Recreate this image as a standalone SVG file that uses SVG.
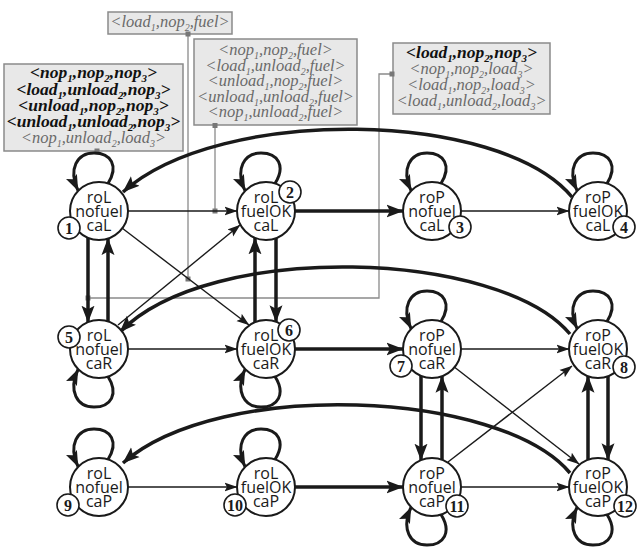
<svg xmlns="http://www.w3.org/2000/svg" width="637" height="556" viewBox="0 0 637 556">
<defs>
<style>
.bg{fill:#fff}
.nc{fill:#fff;stroke:#1a1a1a;stroke-width:2}
.nt{font-family:"Open Sans","Noto Sans",sans-serif;font-size:16px;text-anchor:middle;fill:#1a1a1a}
.uc{fill:#fff;stroke:#1a1a1a;stroke-width:1.6}
.ut{font-family:"Liberation Serif",serif;font-weight:bold;font-size:16px;text-anchor:middle;fill:#1a1a1a}
.e{fill:none;stroke:#1a1a1a}
.thin{stroke-width:1.4;marker-end:url(#at)}
.thick{stroke-width:3.5;marker-end:url(#ak)}
.loop{stroke-width:3;marker-end:url(#al)}
.g{fill:none;stroke:#8a8a8a;stroke-width:1.3}
.sq{fill:#777}
.box{fill:#e8e8e8;stroke:#8a8a8a;stroke-width:1.5}
.lb{font-family:"Liberation Serif",serif;font-style:italic;font-size:16.5px;text-anchor:middle;fill:#6a6a6a}
.lbb{font-weight:bold;fill:#111;font-size:17.5px}
.s{font-size:10px}
.lbb .s{font-size:11px}
</style>
<marker id="ak" markerUnits="userSpaceOnUse" viewBox="0 -7 17 14" refX="16.5" refY="0" markerWidth="17" markerHeight="14" orient="auto"><path d="M0,-6.5 L17,0 L0,6.5 L3.5,0 Z" fill="#1a1a1a"/></marker>
<marker id="al" markerUnits="userSpaceOnUse" viewBox="0 -7 16 14" refX="15.5" refY="0" markerWidth="16" markerHeight="14" orient="auto"><path d="M0,-6 L16,0 L0,6 L3,0 Z" fill="#1a1a1a"/></marker>
<marker id="at" markerUnits="userSpaceOnUse" viewBox="0 -5 13 10" refX="12.5" refY="0" markerWidth="13" markerHeight="10" orient="auto"><path d="M0,-4.5 L13,0 L0,4.5 L2.5,0 Z" fill="#1a1a1a"/></marker>
</defs>
<rect class="bg" x="0" y="0" width="637" height="556"/>

<g id="labels">
<rect class="box" x="4" y="64" width="179" height="87"/>
<text class="lb lbb" x="93.5" y="78">&lt;nop<tspan class="s" dy="4">1</tspan><tspan dy="-4">,nop</tspan><tspan class="s" dy="4">2</tspan><tspan dy="-4">,nop</tspan><tspan class="s" dy="4">3</tspan><tspan dy="-4">&gt;</tspan></text>
<text class="lb lbb" x="93.5" y="94.5">&lt;load<tspan class="s" dy="4">1</tspan><tspan dy="-4">,unload</tspan><tspan class="s" dy="4">2</tspan><tspan dy="-4">,nop</tspan><tspan class="s" dy="4">3</tspan><tspan dy="-4">&gt;</tspan></text>
<text class="lb lbb" x="93.5" y="110.5">&lt;unload<tspan class="s" dy="4">1</tspan><tspan dy="-4">,nop</tspan><tspan class="s" dy="4">2</tspan><tspan dy="-4">,nop</tspan><tspan class="s" dy="4">3</tspan><tspan dy="-4">&gt;</tspan></text>
<text class="lb lbb" x="93.5" y="126.5">&lt;unload<tspan class="s" dy="4">1</tspan><tspan dy="-4">,unload</tspan><tspan class="s" dy="4">2</tspan><tspan dy="-4">,nop</tspan><tspan class="s" dy="4">3</tspan><tspan dy="-4">&gt;</tspan></text>
<text class="lb" x="93.5" y="142.5">&lt;nop<tspan class="s" dy="4">1</tspan><tspan dy="-4">,unload</tspan><tspan class="s" dy="4">2</tspan><tspan dy="-4">,load</tspan><tspan class="s" dy="4">3</tspan><tspan dy="-4">&gt;</tspan></text>

<rect class="box" x="108" y="12" width="124" height="22"/>
<text class="lb" x="170" y="27">&lt;load<tspan class="s" dy="4">1</tspan><tspan dy="-4">,nop</tspan><tspan class="s" dy="4">2</tspan><tspan dy="-4">,fuel&gt;</tspan></text>

<rect class="box" x="194" y="39" width="163" height="86"/>
<text class="lb" x="275.5" y="55">&lt;nop<tspan class="s" dy="4">1</tspan><tspan dy="-4">,nop</tspan><tspan class="s" dy="4">2</tspan><tspan dy="-4">,fuel&gt;</tspan></text>
<text class="lb" x="275.5" y="70.5">&lt;load<tspan class="s" dy="4">1</tspan><tspan dy="-4">,unload</tspan><tspan class="s" dy="4">2</tspan><tspan dy="-4">,fuel&gt;</tspan></text>
<text class="lb" x="275.5" y="86">&lt;unload<tspan class="s" dy="4">1</tspan><tspan dy="-4">,nop</tspan><tspan class="s" dy="4">2</tspan><tspan dy="-4">,fuel&gt;</tspan></text>
<text class="lb" x="275.5" y="101.5">&lt;unload<tspan class="s" dy="4">1</tspan><tspan dy="-4">,unload</tspan><tspan class="s" dy="4">2</tspan><tspan dy="-4">,fuel&gt;</tspan></text>
<text class="lb" x="275.5" y="117">&lt;nop<tspan class="s" dy="4">1</tspan><tspan dy="-4">,unload</tspan><tspan class="s" dy="4">2</tspan><tspan dy="-4">,fuel&gt;</tspan></text>

<rect class="box" x="393" y="43" width="157" height="71"/>
<text class="lb lbb" x="471.5" y="58">&lt;load<tspan class="s" dy="4">1</tspan><tspan dy="-4">,nop</tspan><tspan class="s" dy="4">2</tspan><tspan dy="-4">,nop</tspan><tspan class="s" dy="4">3</tspan><tspan dy="-4">&gt;</tspan></text>
<text class="lb" x="471.5" y="74">&lt;nop<tspan class="s" dy="4">1</tspan><tspan dy="-4">,nop</tspan><tspan class="s" dy="4">2</tspan><tspan dy="-4">,load</tspan><tspan class="s" dy="4">3</tspan><tspan dy="-4">&gt;</tspan></text>
<text class="lb" x="471.5" y="90">&lt;load<tspan class="s" dy="4">1</tspan><tspan dy="-4">,nop</tspan><tspan class="s" dy="4">2</tspan><tspan dy="-4">,load</tspan><tspan class="s" dy="4">3</tspan><tspan dy="-4">&gt;</tspan></text>
<text class="lb" x="471.5" y="106">&lt;load<tspan class="s" dy="4">1</tspan><tspan dy="-4">,unload</tspan><tspan class="s" dy="4">2</tspan><tspan dy="-4">,load</tspan><tspan class="s" dy="4">3</tspan><tspan dy="-4">&gt;</tspan></text>
</g>

<g id="label-links">
<path class="g" d="M188,34 V279"/>
<path class="g" d="M215,125 V211"/>
<path class="g" d="M393,74 H379 V298 H88"/>
<rect class="sq" x="185.5" y="31.5" width="5" height="5"/>
<rect class="sq" x="185.5" y="276.5" width="5" height="5"/>
<rect class="sq" x="212.5" y="123" width="5" height="5"/>
<rect class="sq" x="212.5" y="208.5" width="5" height="5"/>
<rect class="sq" x="389.5" y="71.5" width="5" height="5"/>
<rect class="sq" x="85.5" y="295.5" width="5" height="5"/>
<rect class="sq" x="94.5" y="148.5" width="5" height="5"/>
</g>

<g id="connectors">
<!-- self loops -->
<path class="e loop" transform="translate(99,211)" d="M9,-27.5 C20,-45 12,-58 -5,-58 C-22,-58 -31,-42 -21,-20.5"/>
<path class="e loop" transform="translate(266,211)" d="M9,-27.5 C20,-45 12,-58 -5,-58 C-22,-58 -31,-42 -21,-20.5"/>
<path class="e loop" transform="translate(432,211)" d="M9,-27.5 C20,-45 12,-58 -5,-58 C-22,-58 -31,-42 -21,-20.5"/>
<path class="e loop" transform="translate(598,211)" d="M9,-27.5 C20,-45 12,-58 -5,-58 C-22,-58 -31,-42 -21,-20.5"/>
<path class="e loop" transform="translate(99,349) scale(1,-1)" d="M9,-27.5 C20,-45 12,-58 -5,-58 C-22,-58 -31,-42 -21,-20.5"/>
<path class="e loop" transform="translate(266,349) scale(1,-1)" d="M9,-27.5 C20,-45 12,-58 -5,-58 C-22,-58 -31,-42 -21,-20.5"/>
<path class="e loop" transform="translate(432,349)" d="M9,-27.5 C20,-45 12,-58 -5,-58 C-22,-58 -31,-42 -21,-20.5"/>
<path class="e loop" transform="translate(598,349)" d="M9,-27.5 C20,-45 12,-58 -5,-58 C-22,-58 -31,-42 -21,-20.5"/>
<path class="e loop" transform="translate(99,487)" d="M9,-27.5 C20,-45 12,-58 -5,-58 C-22,-58 -31,-42 -21,-20.5"/>
<path class="e loop" transform="translate(266,487)" d="M9,-27.5 C20,-45 12,-58 -5,-58 C-22,-58 -31,-42 -21,-20.5"/>
<path class="e loop" transform="translate(432,487) scale(1,-1)" d="M9,-27.5 C20,-45 12,-58 -5,-58 C-22,-58 -31,-42 -21,-20.5"/>
<path class="e loop" transform="translate(598,487) scale(1,-1)" d="M9,-27.5 C20,-45 12,-58 -5,-58 C-22,-58 -31,-42 -21,-20.5"/>

<!-- thin horizontals -->
<path class="e thin" d="M128,211 H237"/>
<path class="e thin" d="M461,211 H569"/>
<path class="e thin" d="M128,349 H237"/>
<path class="e thin" d="M461,349 H569"/>
<path class="e thin" d="M128,487 H237"/>
<path class="e thin" d="M461,487 H569"/>
<!-- thick horizontals -->
<path class="e thick" d="M295,211 H403"/>
<path class="e thick" d="M295,349 H403"/>
<path class="e thick" d="M295,487 H403"/>
<!-- diagonals -->
<path class="e thin" d="M122,228 L249,325"/>
<path class="e thin" d="M118,325 L240,225"/>
<path class="e thin" d="M453,366 L579,464"/>
<path class="e thin" d="M448,462 L572,366"/>
<!-- vertical pairs -->
<path class="e thick" d="M88,237.8 V322.2"/>
<path class="e thick" d="M108,321.4 V238.6"/>
<path class="e thick" d="M255,322.2 V237.8"/>
<path class="e thick" d="M276,238.2 V321.8"/>
<path class="e thick" d="M421,375.8 V460.2"/>
<path class="e thick" d="M442,459.8 V376.2"/>
<path class="e thick" d="M588,459.8 V376.2"/>
<path class="e thick" d="M608,376.2 V459.8"/>
<!-- long curves -->
<path class="e thick" d="M572,197 C500,110 220,105 123,192"/>
<path class="e thick" d="M570,334 C500,250 210,240 120,332"/>
<path class="e thick" d="M570,473 C500,390 220,378 123,463"/>
</g>

<g id="n1"><circle class="nc" cx="99" cy="211" r="29"/><text class="nt" x="99" y="202.5">roL</text><text class="nt" x="99" y="216.5">nofuel</text><text class="nt" x="99" y="230.5">caL</text><circle class="uc" cx="69" cy="228" r="11"/><text class="ut" x="69" y="233.6">1</text></g>
<g id="n2"><circle class="nc" cx="266" cy="211" r="29"/><text class="nt" x="266" y="202.5">roL</text><text class="nt" x="266" y="216.5">fuelOK</text><text class="nt" x="266" y="230.5">caL</text><circle class="uc" cx="290" cy="192" r="11"/><text class="ut" x="290" y="197.6">2</text></g>
<g id="n3"><circle class="nc" cx="432" cy="211" r="29"/><text class="nt" x="432" y="202.5">roP</text><text class="nt" x="432" y="216.5">nofuel</text><text class="nt" x="432" y="230.5">caL</text><circle class="uc" cx="460" cy="227" r="11"/><text class="ut" x="460" y="232.6">3</text></g>
<g id="n4"><circle class="nc" cx="598" cy="211" r="29"/><text class="nt" x="598" y="202.5">roP</text><text class="nt" x="598" y="216.5">fuelOK</text><text class="nt" x="598" y="230.5">caL</text><circle class="uc" cx="624" cy="227" r="11"/><text class="ut" x="624" y="232.6">4</text></g>
<g id="n5"><circle class="nc" cx="99" cy="349" r="29"/><text class="nt" x="99" y="340.5">roL</text><text class="nt" x="99" y="354.5">nofuel</text><text class="nt" x="99" y="368.5">caR</text><circle class="uc" cx="69" cy="337" r="11"/><text class="ut" x="69" y="342.6">5</text></g>
<g id="n6"><circle class="nc" cx="266" cy="349" r="29"/><text class="nt" x="266" y="340.5">roL</text><text class="nt" x="266" y="354.5">fuelOK</text><text class="nt" x="266" y="368.5">caR</text><circle class="uc" cx="289" cy="330" r="11"/><text class="ut" x="289" y="335.6">6</text></g>
<g id="n7"><circle class="nc" cx="432" cy="349" r="29"/><text class="nt" x="432" y="340.5">roP</text><text class="nt" x="432" y="354.5">nofuel</text><text class="nt" x="432" y="368.5">caR</text><circle class="uc" cx="401" cy="366" r="11"/><text class="ut" x="401" y="371.6">7</text></g>
<g id="n8"><circle class="nc" cx="598" cy="349" r="29"/><text class="nt" x="598" y="340.5">roP</text><text class="nt" x="598" y="354.5">fuelOK</text><text class="nt" x="598" y="368.5">caR</text><circle class="uc" cx="624" cy="367" r="11"/><text class="ut" x="624" y="372.6">8</text></g>
<g id="n9"><circle class="nc" cx="99" cy="487" r="29"/><text class="nt" x="99" y="478.5">roL</text><text class="nt" x="99" y="492.5">nofuel</text><text class="nt" x="99" y="506.5">caP</text><circle class="uc" cx="68" cy="505" r="11"/><text class="ut" x="68" y="510.6">9</text></g>
<g id="n10"><circle class="nc" cx="266" cy="487" r="29"/><text class="nt" x="266" y="478.5">roL</text><text class="nt" x="266" y="492.5">fuelOK</text><text class="nt" x="266" y="506.5">caP</text><circle class="uc" cx="235" cy="505" r="11"/><text class="ut" x="235" y="510.6">10</text></g>
<g id="n11"><circle class="nc" cx="432" cy="487" r="29"/><text class="nt" x="432" y="478.5">roP</text><text class="nt" x="432" y="492.5">nofuel</text><text class="nt" x="432" y="506.5">caP</text><circle class="uc" cx="457" cy="506" r="11"/><text class="ut" x="457" y="511.6">11</text></g>
<g id="n12"><circle class="nc" cx="598" cy="487" r="29"/><text class="nt" x="598" y="478.5">roP</text><text class="nt" x="598" y="492.5">fuelOK</text><text class="nt" x="598" y="506.5">caP</text><circle class="uc" cx="625" cy="506" r="11"/><text class="ut" x="625" y="511.6">12</text></g>
</svg>
